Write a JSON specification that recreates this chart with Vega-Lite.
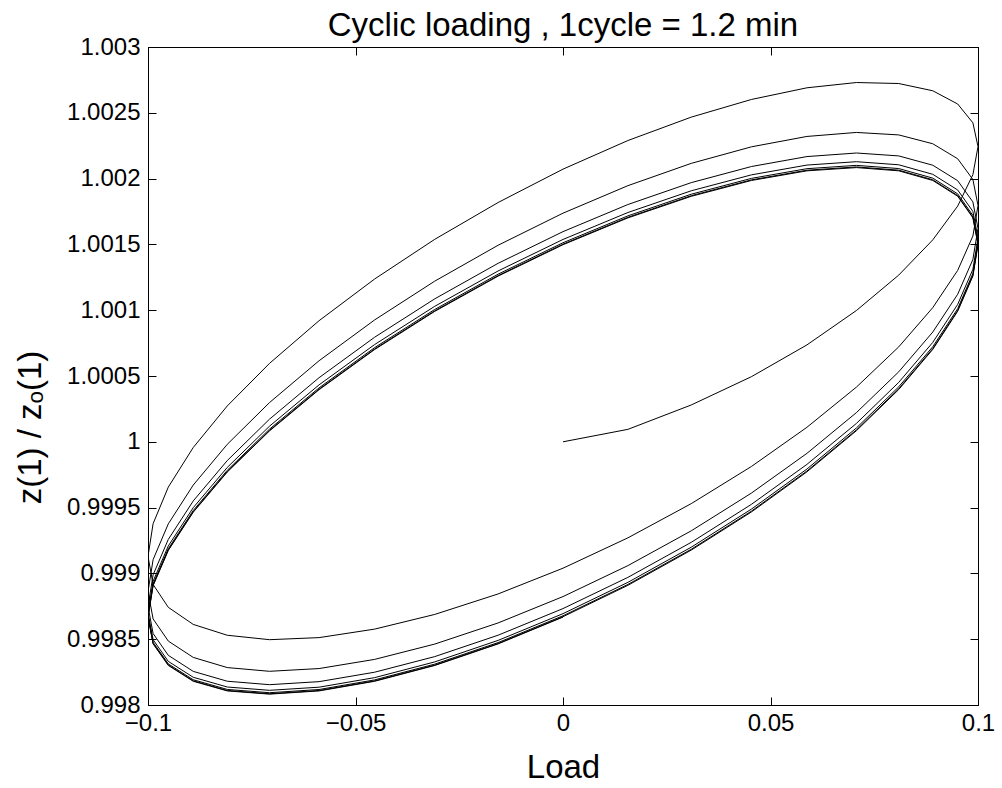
{
  "$schema": "https://vega.github.io/schema/vega-lite/v6.json",
  "width": 830,
  "height": 658,
  "autosize": {"type": "none"},
  "padding": {"left": 148, "top": 47, "right": 24, "bottom": 83},
  "background": "white",
  "title": {"text": "Cyclic loading , 1cycle = 1.2 min", "font": "Liberation Sans", "fontSize": 33, "fontWeight": "normal", "color": "black", "anchor": "middle", "offset": 3, "dy": 11},
  "config": {
    "view": {"stroke": "black", "strokeWidth": 1},
    "axis": {"domainColor": "black", "tickColor": "black", "labelColor": "black", "titleColor": "black", "labelFont": "Liberation Sans", "titleFont": "Liberation Sans", "grid": false, "tickSize": -8, "tickWidth": 1, "labelFontSize": 24, "titleFontSize": 33, "titleFontWeight": "normal"}
  },
  "data": {"values": [
    {"t":0,"x":0,"y":1},
    {"t":1,"x":0.015643,"y":1.0000946},
    {"t":2,"x":0.030902,"y":1.0002798},
    {"t":3,"x":0.045399,"y":1.0004947},
    {"t":4,"x":0.058779,"y":1.0007362},
    {"t":5,"x":0.070711,"y":1.0009978},
    {"t":6,"x":0.080902,"y":1.0012668},
    {"t":7,"x":0.089101,"y":1.0015344},
    {"t":8,"x":0.095106,"y":1.0017912},
    {"t":9,"x":0.098769,"y":1.00203},
    {"t":10,"x":0.1,"y":1.0022431},
    {"t":11,"x":0.098769,"y":1.0024237},
    {"t":12,"x":0.095106,"y":1.0025668},
    {"t":13,"x":0.089101,"y":1.0026674},
    {"t":14,"x":0.080902,"y":1.0027225},
    {"t":15,"x":0.070711,"y":1.0027301},
    {"t":16,"x":0.058779,"y":1.0026899},
    {"t":17,"x":0.045399,"y":1.0026013},
    {"t":18,"x":0.030902,"y":1.0024671},
    {"t":19,"x":0.015643,"y":1.0022893},
    {"t":20,"x":0,"y":1.002072},
    {"t":21,"x":-0.015643,"y":1.0018182},
    {"t":22,"x":-0.030902,"y":1.0015386},
    {"t":23,"x":-0.045399,"y":1.0012369},
    {"t":24,"x":-0.058779,"y":1.0009203},
    {"t":25,"x":-0.070711,"y":1.0005962},
    {"t":26,"x":-0.080902,"y":1.0002723},
    {"t":27,"x":-0.089101,"y":0.9999565},
    {"t":28,"x":-0.095106,"y":0.9996559},
    {"t":29,"x":-0.098769,"y":0.999378},
    {"t":30,"x":-0.1,"y":0.9991294},
    {"t":31,"x":-0.098769,"y":0.9989157},
    {"t":32,"x":-0.095106,"y":0.998742},
    {"t":33,"x":-0.089101,"y":0.9986125},
    {"t":34,"x":-0.080902,"y":0.9985299},
    {"t":35,"x":-0.070711,"y":0.9984963},
    {"t":36,"x":-0.058779,"y":0.998512},
    {"t":37,"x":-0.045399,"y":0.9985766},
    {"t":38,"x":-0.030902,"y":0.9986882},
    {"t":39,"x":-0.015643,"y":0.9988439},
    {"t":40,"x":0,"y":0.9990396},
    {"t":41,"x":0.015643,"y":0.9992703},
    {"t":42,"x":0.030902,"y":0.9995301},
    {"t":43,"x":0.045399,"y":0.9998124},
    {"t":44,"x":0.058779,"y":1.0001101},
    {"t":45,"x":0.070711,"y":1.0004157},
    {"t":46,"x":0.080902,"y":1.0007214},
    {"t":47,"x":0.089101,"y":1.0010195},
    {"t":48,"x":0.095106,"y":1.0013027},
    {"t":49,"x":0.098769,"y":1.0015636},
    {"t":50,"x":0.1,"y":1.0017957},
    {"t":51,"x":0.098769,"y":1.001993},
    {"t":52,"x":0.095106,"y":1.0021507},
    {"t":53,"x":0.089101,"y":1.0022647},
    {"t":54,"x":0.080902,"y":1.002332},
    {"t":55,"x":0.070711,"y":1.0023507},
    {"t":56,"x":0.058779,"y":1.0023203},
    {"t":57,"x":0.045399,"y":1.0022414},
    {"t":58,"x":0.030902,"y":1.0021158},
    {"t":59,"x":0.015643,"y":1.0019463},
    {"t":60,"x":0,"y":1.0017373},
    {"t":61,"x":-0.015643,"y":1.0014935},
    {"t":62,"x":-0.030902,"y":1.0012208},
    {"t":63,"x":-0.045399,"y":1.0009259},
    {"t":64,"x":-0.058779,"y":1.0006159},
    {"t":65,"x":-0.070711,"y":1.0002983},
    {"t":66,"x":-0.080902,"y":0.9999807},
    {"t":67,"x":-0.089101,"y":0.9996711},
    {"t":68,"x":-0.095106,"y":0.9993766},
    {"t":69,"x":-0.098769,"y":0.9991047},
    {"t":70,"x":-0.1,"y":0.9988618},
    {"t":71,"x":-0.098769,"y":0.9986539},
    {"t":72,"x":-0.095106,"y":0.9984857},
    {"t":73,"x":-0.089101,"y":0.9983617},
    {"t":74,"x":-0.080902,"y":0.9982844},
    {"t":75,"x":-0.070711,"y":0.998256},
    {"t":76,"x":-0.058779,"y":0.9982769},
    {"t":77,"x":-0.045399,"y":0.9983465},
    {"t":78,"x":-0.030902,"y":0.998463},
    {"t":79,"x":-0.015643,"y":0.9986235},
    {"t":80,"x":0,"y":0.9988239},
    {"t":81,"x":0.015643,"y":0.9990591},
    {"t":82,"x":0.030902,"y":0.9993234},
    {"t":83,"x":0.045399,"y":0.9996102},
    {"t":84,"x":0.058779,"y":0.9999121},
    {"t":85,"x":0.070711,"y":1.000222},
    {"t":86,"x":0.080902,"y":1.0005318},
    {"t":87,"x":0.089101,"y":1.000834},
    {"t":88,"x":0.095106,"y":1.0011211},
    {"t":89,"x":0.098769,"y":1.0013858},
    {"t":90,"x":0.1,"y":1.0016217},
    {"t":91,"x":0.098769,"y":1.0018227},
    {"t":92,"x":0.095106,"y":1.0019841},
    {"t":93,"x":0.089101,"y":1.0021016},
    {"t":94,"x":0.080902,"y":1.0021724},
    {"t":95,"x":0.070711,"y":1.0021945},
    {"t":96,"x":0.058779,"y":1.0021674},
    {"t":97,"x":0.045399,"y":1.0020917},
    {"t":98,"x":0.030902,"y":1.0019693},
    {"t":99,"x":0.015643,"y":1.001803},
    {"t":100,"x":0,"y":1.001597},
    {"t":101,"x":-0.015643,"y":1.0013562},
    {"t":102,"x":-0.030902,"y":1.0010864},
    {"t":103,"x":-0.045399,"y":1.0007944},
    {"t":104,"x":-0.058779,"y":1.0004872},
    {"t":105,"x":-0.070711,"y":1.0001723},
    {"t":106,"x":-0.080902,"y":0.9998574},
    {"t":107,"x":-0.089101,"y":0.9995504},
    {"t":108,"x":-0.095106,"y":0.9992585},
    {"t":109,"x":-0.098769,"y":0.9989891},
    {"t":110,"x":-0.1,"y":0.9987487},
    {"t":111,"x":-0.098769,"y":0.9985431},
    {"t":112,"x":-0.095106,"y":0.9983774},
    {"t":113,"x":-0.089101,"y":0.9982556},
    {"t":114,"x":-0.080902,"y":0.9981806},
    {"t":115,"x":-0.070711,"y":0.9981544},
    {"t":116,"x":-0.058779,"y":0.9981775},
    {"t":117,"x":-0.045399,"y":0.9982492},
    {"t":118,"x":-0.030902,"y":0.9983678},
    {"t":119,"x":-0.015643,"y":0.9985303},
    {"t":120,"x":0,"y":0.9987327},
    {"t":121,"x":0.015643,"y":0.9989698},
    {"t":122,"x":0.030902,"y":0.999236},
    {"t":123,"x":0.045399,"y":0.9995247},
    {"t":124,"x":0.058779,"y":0.9998284},
    {"t":125,"x":0.070711,"y":1.00014},
    {"t":126,"x":0.080902,"y":1.0004516},
    {"t":127,"x":0.089101,"y":1.0007555},
    {"t":128,"x":0.095106,"y":1.0010443},
    {"t":129,"x":0.098769,"y":1.0013107},
    {"t":130,"x":0.1,"y":1.0015481},
    {"t":131,"x":0.098769,"y":1.0017507},
    {"t":132,"x":0.095106,"y":1.0019136},
    {"t":133,"x":0.089101,"y":1.0020326},
    {"t":134,"x":0.080902,"y":1.0021049},
    {"t":135,"x":0.070711,"y":1.0021284},
    {"t":136,"x":0.058779,"y":1.0021028},
    {"t":137,"x":0.045399,"y":1.0020284},
    {"t":138,"x":0.030902,"y":1.0019074},
    {"t":139,"x":0.015643,"y":1.0017424},
    {"t":140,"x":0,"y":1.0015377},
    {"t":141,"x":-0.015643,"y":1.0012981},
    {"t":142,"x":-0.030902,"y":1.0010296},
    {"t":143,"x":-0.045399,"y":1.0007388},
    {"t":144,"x":-0.058779,"y":1.0004328},
    {"t":145,"x":-0.070711,"y":1.000119},
    {"t":146,"x":-0.080902,"y":0.9998053},
    {"t":147,"x":-0.089101,"y":0.9994994},
    {"t":148,"x":-0.095106,"y":0.9992086},
    {"t":149,"x":-0.098769,"y":0.9989402},
    {"t":150,"x":-0.1,"y":0.9987009},
    {"t":151,"x":-0.098769,"y":0.9984963},
    {"t":152,"x":-0.095106,"y":0.9983316},
    {"t":153,"x":-0.089101,"y":0.9982108},
    {"t":154,"x":-0.080902,"y":0.9981367},
    {"t":155,"x":-0.070711,"y":0.9981115},
    {"t":156,"x":-0.058779,"y":0.9981354},
    {"t":157,"x":-0.045399,"y":0.998208},
    {"t":158,"x":-0.030902,"y":0.9983275},
    {"t":159,"x":-0.015643,"y":0.9984909},
    {"t":160,"x":0,"y":0.9986941},
    {"t":161,"x":0.015643,"y":0.9989321},
    {"t":162,"x":0.030902,"y":0.9991991},
    {"t":163,"x":0.045399,"y":0.9994885},
    {"t":164,"x":0.058779,"y":0.999793},
    {"t":165,"x":0.070711,"y":1.0001054},
    {"t":166,"x":0.080902,"y":1.0004177},
    {"t":167,"x":0.089101,"y":1.0007223},
    {"t":168,"x":0.095106,"y":1.0010118},
    {"t":169,"x":0.098769,"y":1.0012789},
    {"t":170,"x":0.1,"y":1.001517},
    {"t":171,"x":0.098769,"y":1.0017203},
    {"t":172,"x":0.095106,"y":1.0018838},
    {"t":173,"x":0.089101,"y":1.0020035},
    {"t":174,"x":0.080902,"y":1.0020763},
    {"t":175,"x":0.070711,"y":1.0021005},
    {"t":176,"x":0.058779,"y":1.0020754},
    {"t":177,"x":0.045399,"y":1.0020017},
    {"t":178,"x":0.030902,"y":1.0018812},
    {"t":179,"x":0.015643,"y":1.0017168},
    {"t":180,"x":0,"y":1.0015126},
    {"t":181,"x":-0.015643,"y":1.0012736},
    {"t":182,"x":-0.030902,"y":1.0010056},
    {"t":183,"x":-0.045399,"y":1.0007153},
    {"t":184,"x":-0.058779,"y":1.0004098},
    {"t":185,"x":-0.070711,"y":1.0000965},
    {"t":186,"x":-0.080902,"y":0.9997833},
    {"t":187,"x":-0.089101,"y":0.9994778},
    {"t":188,"x":-0.095106,"y":0.9991875},
    {"t":189,"x":-0.098769,"y":0.9989195},
    {"t":190,"x":-0.1,"y":0.9986806},
    {"t":191,"x":-0.098769,"y":0.9984765},
    {"t":192,"x":-0.095106,"y":0.9983122},
    {"t":193,"x":-0.089101,"y":0.9981918},
    {"t":194,"x":-0.080902,"y":0.9981182},
    {"t":195,"x":-0.070711,"y":0.9980933},
    {"t":196,"x":-0.058779,"y":0.9981176},
    {"t":197,"x":-0.045399,"y":0.9981906},
    {"t":198,"x":-0.030902,"y":0.9983105},
    {"t":199,"x":-0.015643,"y":0.9984742},
    {"t":200,"x":0,"y":0.9986778},
    {"t":201,"x":0.015643,"y":0.9989161},
    {"t":202,"x":0.030902,"y":0.9991835},
    {"t":203,"x":0.045399,"y":0.9994732},
    {"t":204,"x":0.058779,"y":0.9997781},
    {"t":205,"x":0.070711,"y":1.0000907},
    {"t":206,"x":0.080902,"y":1.0004034},
    {"t":207,"x":0.089101,"y":1.0007083},
    {"t":208,"x":0.095106,"y":1.0009981},
    {"t":209,"x":0.098769,"y":1.0012654},
    {"t":210,"x":0.1,"y":1.0015038},
    {"t":211,"x":0.098769,"y":1.0017074},
    {"t":212,"x":0.095106,"y":1.0018712},
    {"t":213,"x":0.089101,"y":1.0019911},
    {"t":214,"x":0.080902,"y":1.0020642},
    {"t":215,"x":0.070711,"y":1.0020887},
    {"t":216,"x":0.058779,"y":1.0020639},
    {"t":217,"x":0.045399,"y":1.0019904},
    {"t":218,"x":0.030902,"y":1.0018701},
    {"t":219,"x":0.015643,"y":1.0017059},
    {"t":220,"x":0,"y":1.001502},
    {"t":221,"x":-0.015643,"y":1.0012632},
    {"t":222,"x":-0.030902,"y":1.0009954},
    {"t":223,"x":-0.045399,"y":1.0007053},
    {"t":224,"x":-0.058779,"y":1.0004},
    {"t":225,"x":-0.070711,"y":1.000087},
    {"t":226,"x":-0.080902,"y":0.9997739},
    {"t":227,"x":-0.089101,"y":0.9994687},
    {"t":228,"x":-0.095106,"y":0.9991785},
    {"t":229,"x":-0.098769,"y":0.9989108},
    {"t":230,"x":-0.1,"y":0.9986721},
    {"t":231,"x":-0.098769,"y":0.9984681},
    {"t":232,"x":-0.095106,"y":0.998304},
    {"t":233,"x":-0.089101,"y":0.9981838},
    {"t":234,"x":-0.080902,"y":0.9981103},
    {"t":235,"x":-0.070711,"y":0.9980856},
    {"t":236,"x":-0.058779,"y":0.9981101},
    {"t":237,"x":-0.045399,"y":0.9981833},
    {"t":238,"x":-0.030902,"y":0.9983033},
    {"t":239,"x":-0.015643,"y":0.9984672},
    {"t":240,"x":0,"y":0.9986709},
    {"t":241,"x":0.015643,"y":0.9989094},
    {"t":242,"x":0.030902,"y":0.9991769},
    {"t":243,"x":0.045399,"y":0.9994668},
    {"t":244,"x":0.058779,"y":0.9997718},
    {"t":245,"x":0.070711,"y":1.0000845},
    {"t":246,"x":0.080902,"y":1.0003973},
    {"t":247,"x":0.089101,"y":1.0007023},
    {"t":248,"x":0.095106,"y":1.0009922},
    {"t":249,"x":0.098769,"y":1.0012598},
    {"t":250,"x":0.1,"y":1.0014983},
    {"t":251,"x":0.098769,"y":1.001702},
    {"t":252,"x":0.095106,"y":1.0018659},
    {"t":253,"x":0.089101,"y":1.0019859},
    {"t":254,"x":0.080902,"y":1.0020591},
    {"t":255,"x":0.070711,"y":1.0020837},
    {"t":256,"x":0.058779,"y":1.002059},
    {"t":257,"x":0.045399,"y":1.0019856},
    {"t":258,"x":0.030902,"y":1.0018654},
    {"t":259,"x":0.015643,"y":1.0017014},
    {"t":260,"x":0,"y":1.0014975},
    {"t":261,"x":-0.015643,"y":1.0012588},
    {"t":262,"x":-0.030902,"y":1.0009911},
    {"t":263,"x":-0.045399,"y":1.000701},
    {"t":264,"x":-0.058779,"y":1.0003959},
    {"t":265,"x":-0.070711,"y":1.000083},
    {"t":266,"x":-0.080902,"y":0.99977},
    {"t":267,"x":-0.089101,"y":0.9994648},
    {"t":268,"x":-0.095106,"y":0.9991748},
    {"t":269,"x":-0.098769,"y":0.9989071},
    {"t":270,"x":-0.1,"y":0.9986685},
    {"t":271,"x":-0.098769,"y":0.9984646},
    {"t":272,"x":-0.095106,"y":0.9983006},
    {"t":273,"x":-0.089101,"y":0.9981804},
    {"t":274,"x":-0.080902,"y":0.998107},
    {"t":275,"x":-0.070711,"y":0.9980824},
    {"t":276,"x":-0.058779,"y":0.998107},
    {"t":277,"x":-0.045399,"y":0.9981802},
    {"t":278,"x":-0.030902,"y":0.9983003},
    {"t":279,"x":-0.015643,"y":0.9984642},
    {"t":280,"x":0,"y":0.998668}
  ]},
  "layer": [
    {
      "mark": {"type": "line", "stroke": "black", "strokeWidth": 1, "clip": true},
      "encoding": {
        "x": {"field": "x", "type": "quantitative", "scale": {"domain": [-0.1, 0.1], "nice": false, "zero": false},
              "axis": {"orient": "bottom", "values": [-0.1, -0.05, 0, 0.05, 0.1], "format": ".2~f", "labelPadding": 14, "title": "Load", "titleY": 72, "titleBaseline": "alphabetic", "labelFlush": false}},
        "y": {"field": "y", "type": "quantitative", "scale": {"domain": [0.998, 1.003], "nice": false, "zero": false},
              "axis": {"orient": "left", "values": [0.998, 0.9985, 0.999, 0.9995, 1, 1.0005, 1.001, 1.0015, 1.002, 1.0025, 1.003], "format": ".4~f", "labelPadding": 16, "title": "z(1) / zₒ(1)", "titleX": -108, "titleY": 380, "titleAlign": "center", "titleBaseline": "alphabetic", "titleAngle": -90}},
        "order": {"field": "t", "type": "quantitative"}
      }
    },
    {
      "mark": {"type": "line", "strokeOpacity": 0},
      "encoding": {
        "x": {"field": "x", "type": "quantitative", "axis": {"orient": "top", "values": [-0.1, -0.05, 0, 0.05, 0.1], "labels": false, "title": null}},
        "y": {"field": "y", "type": "quantitative", "axis": {"orient": "right", "values": [0.998, 0.9985, 0.999, 0.9995, 1, 1.0005, 1.001, 1.0015, 1.002, 1.0025, 1.003], "labels": false, "title": null}},
        "order": {"field": "t", "type": "quantitative"}
      }
    }
  ],
  "resolve": {"axis": {"x": "independent", "y": "independent"}}
}
